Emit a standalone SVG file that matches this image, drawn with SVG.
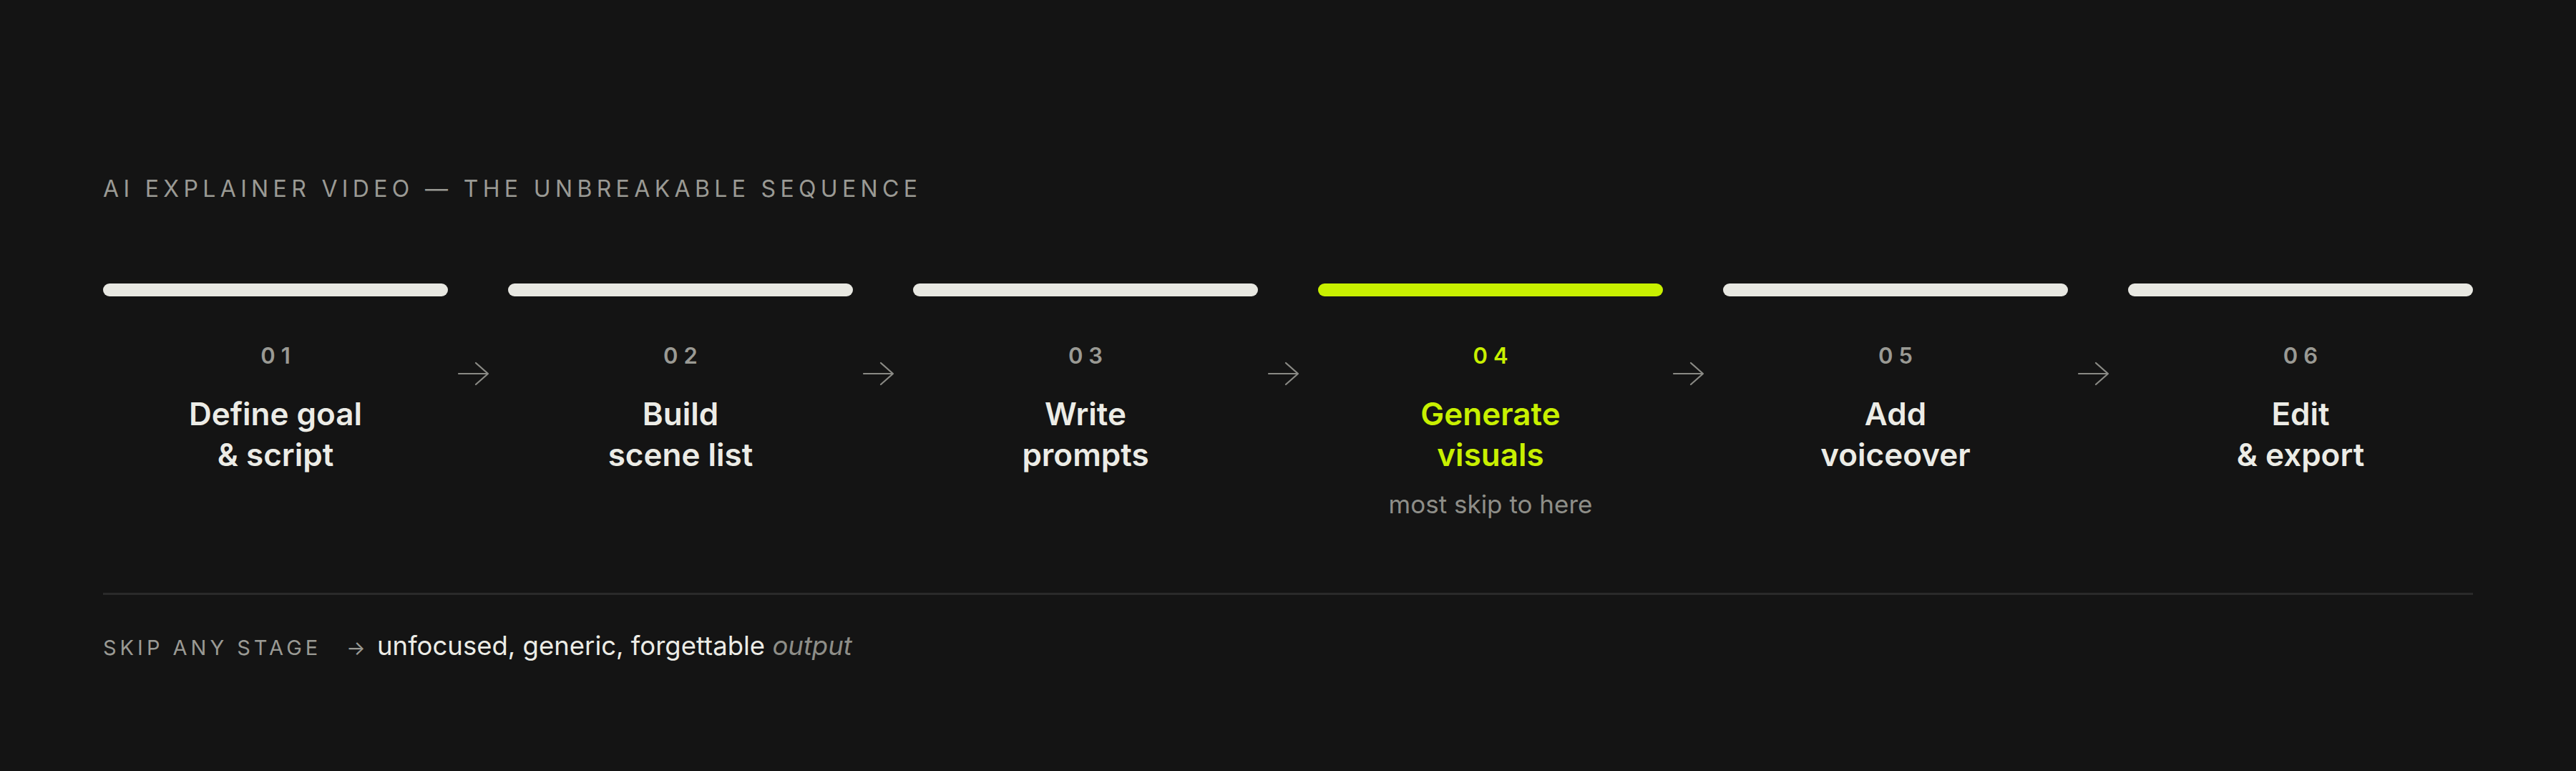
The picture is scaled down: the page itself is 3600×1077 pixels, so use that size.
<svg xmlns="http://www.w3.org/2000/svg" width="3600" height="1077" viewBox="0 0 3600 1077">
<style>
.bg{fill:#141414}
.bar{fill:#e8e8e2}
.bar.hi{fill:#c8f000}
.kicker{font-family:Inter,"Liberation Sans",sans-serif;font-size:32px;font-weight:400;fill:#9a9a94;letter-spacing:6.35px}
.num{font-family:Inter,"Liberation Sans",sans-serif;font-size:31px;font-weight:600;fill:#9a9a94;letter-spacing:8px;text-anchor:middle}
.ttl{font-family:Inter,"Liberation Sans",sans-serif;font-size:44px;font-weight:600;fill:#ecece6;text-anchor:middle}
.hi-t{fill:#c8f000}
.note{font-family:Inter,"Liberation Sans",sans-serif;font-size:35px;font-weight:400;fill:#8e8e88;text-anchor:middle}
.arrow{fill:none;stroke:#8a8a85;stroke-width:2.2;stroke-linecap:round;stroke-linejoin:round}
.foot{font-family:Inter,"Liberation Sans",sans-serif;font-size:29px;font-weight:400;fill:#9a9a94;letter-spacing:5px}
.out{font-family:Inter,"Liberation Sans",sans-serif;font-size:36.5px;font-weight:400;fill:#ecece6}
</style>
<rect class="bg" x="0" y="0" width="3600" height="1077"/>
<text id="title" class="kicker" x="144" y="275">AI EXPLAINER VIDEO — THE UNBREAKABLE SEQUENCE</text>

<g id="stage1">
<rect class="bar" x="144" y="396" width="482" height="18" rx="9"/>
<text class="num" x="389" y="508">01</text>
<text class="ttl" x="385" y="594">Define goal</text>
<text class="ttl" x="385" y="651">&amp; script</text>
</g>
<g id="stage2">
<rect class="bar" x="710" y="396" width="482" height="18" rx="9"/>
<text class="num" x="955" y="508">02</text>
<text class="ttl" x="951" y="594">Build</text>
<text class="ttl" x="951" y="651">scene list</text>
</g>
<g id="stage3">
<rect class="bar" x="1276" y="396" width="482" height="18" rx="9"/>
<text class="num" x="1521" y="508">03</text>
<text class="ttl" x="1517" y="594">Write</text>
<text class="ttl" x="1517" y="651">prompts</text>
</g>
<g id="stage4">
<rect class="bar hi" x="1842" y="396" width="482" height="18" rx="9"/>
<text class="num hi-t" x="2087" y="508">04</text>
<text class="ttl hi-t" x="2083" y="594">Generate</text>
<text class="ttl hi-t" x="2083" y="651">visuals</text>
<text class="note" x="2083" y="717">most skip to here</text>
</g>
<g id="stage5">
<rect class="bar" x="2408" y="396" width="482" height="18" rx="9"/>
<text class="num" x="2653" y="508">05</text>
<text class="ttl" x="2649" y="594">Add</text>
<text class="ttl" x="2649" y="651">voiceover</text>
</g>
<g id="stage6">
<rect class="bar" x="2974" y="396" width="482" height="18" rx="9"/>
<text class="num" x="3219" y="508">06</text>
<text class="ttl" x="3215" y="594">Edit</text>
<text class="ttl" x="3215" y="651">&amp; export</text>
</g>

<g id="connectors">
<path class="arrow" d="M641 522 H682 M665 507 L682 522 L665 537"/>
<path class="arrow" d="M1207 522 H1248 M1231 507 L1248 522 L1231 537"/>
<path class="arrow" d="M1773 522 H1814 M1797 507 L1814 522 L1797 537"/>
<path class="arrow" d="M2339 522 H2380 M2363 507 L2380 522 L2363 537"/>
<path class="arrow" d="M2905 522 H2946 M2929 507 L2946 522 L2929 537"/>
</g>

<rect id="divider" x="144" y="828" width="3312" height="3" fill="#2a2a2a"/>

<g id="footer">
<text class="foot" x="144" y="915">SKIP ANY STAGE</text>
<text class="out" x="484" y="915"><tspan font-size="28" fill="#9a9a94">→</tspan><tspan dx="6"> unfocused, generic, forgettable </tspan><tspan font-style="italic" fill="#8e8e88">output</tspan></text>
</g>
</svg>
